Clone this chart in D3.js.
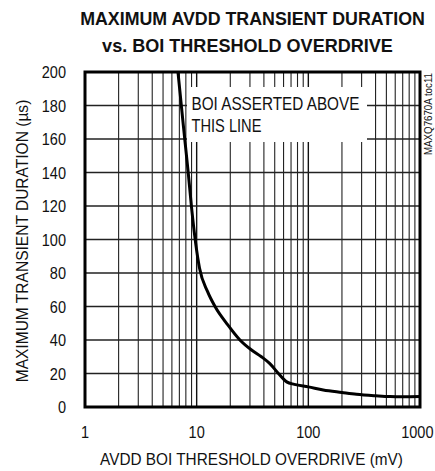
<!DOCTYPE html>
<html><head><meta charset="utf-8">
<script src="https://cdn.jsdelivr.net/npm/d3@7"></script>
<style>
html,body{margin:0;padding:0;background:#fff;}
svg{display:block;}
text{font-family:"Liberation Sans",Arial,sans-serif;fill:#111;}
</style></head>
<body>
<svg id="chart" width="435" height="471"></svg>
<script>
const overdrive = [6.8, 7.6, 8.4, 9.0, 10.6, 12.5, 14.6, 19, 24.4, 31, 38, 45, 54, 64, 75, 100, 136, 200, 270, 400, 537, 700, 1000];
const duration  = [200, 168, 140, 119, 83, 69, 60, 49, 40, 34, 30, 26, 20, 15, 13.5, 12, 10.2, 8.7, 7.6, 6.7, 6.2, 6.1, 6.2];
const xTicks = [1, 10, 100, 1000];
const yTicks = [0, 20, 40, 60, 80, 100, 120, 140, 160, 180, 200];
const titleLines = ["MAXIMUM AVDD TRANSIENT DURATION", "vs. BOI THRESHOLD OVERDRIVE"];
const xLabel = "AVDD BOI THRESHOLD OVERDRIVE (mV)";
const yLabel = "MAXIMUM TRANSIENT DURATION (\u00B5s)";
const noteLines = ["BOI ASSERTED ABOVE", "THIS LINE"];
const sideNote = "MAXQ7670A toc11";

const svg = d3.select("#chart");
const W = 435;
const L = 85, R = 420, T = 72, B = 407;
const x = d3.scaleLog().domain([1, 1000]).range([L, R]);
const y = d3.scaleLinear().domain([0, 200]).range([B, T]);

// place a text with horizontal squeeze via transform (narrow-face look)
// opts: {x, y, rot, anchor, size, weight, width (target) or factor}
function put(parent, str, o) {
  const t = parent.append("text")
    .attr("text-anchor", o.anchor || "start")
    .attr("font-size", o.size)
    .attr("font-weight", o.weight || "normal")
    .text(str);
  const w = t.node().getComputedTextLength();
  const f = o.width ? o.width / w : (o.factor || 1);
  let px = o.x;
  if (o.maxRight != null) {
    const half = (o.anchor === "middle" ? w * f / 2 : 0);
    px = Math.min(px, o.maxRight - half);
  }
  t.attr("transform", `translate(${px},${o.y})` + (o.rot ? ` rotate(${o.rot})` : "") + ` scale(${f},1)`);
  return t;
}

// minor vertical grid
const minor = [];
for (let d = 1; d < 1000; d *= 10) for (let k = 2; k <= 9; k++) minor.push(d * k);
const g = svg.append("g");
g.selectAll(".vmin").data(minor).enter().append("line")
  .attr("x1", d => x(d)).attr("x2", d => x(d)).attr("y1", T).attr("y2", B)
  .attr("stroke", "#222").attr("stroke-width", 1.1);
g.selectAll(".vmaj").data(xTicks).enter().append("line")
  .attr("x1", d => x(d)).attr("x2", d => x(d)).attr("y1", T).attr("y2", B)
  .attr("stroke", "#111").attr("stroke-width", 1.4);
g.selectAll(".h").data(yTicks).enter().append("line")
  .attr("x1", L).attr("x2", R).attr("y1", d => y(d)).attr("y2", d => y(d))
  .attr("stroke", "#222").attr("stroke-width", 1.3);

// annotation box
svg.append("rect").attr("x", 187).attr("y", 87).attr("width", 180).attr("height", 55).attr("fill", "#fff");
noteLines.forEach((s, i) => put(svg, s, {x: 191.5, y: i ? 131.5 : 109.5, size: 17.5, width: i ? 70 : 168}));

// curve
const line = d3.line().x((d, i) => x(overdrive[i])).y(d => y(d)).curve(d3.curveMonotoneX);
svg.append("path").datum(duration).attr("d", line)
  .attr("fill", "none").attr("stroke", "#000").attr("stroke-width", 3);

// border
svg.append("rect").attr("x", L).attr("y", T).attr("width", R - L).attr("height", B - T)
  .attr("fill", "none").attr("stroke", "#000").attr("stroke-width", 3);

// tick labels
const fmt = d3.format("d");
yTicks.forEach(d => put(svg, fmt(d), {x: 66, y: y(d) + 6, anchor: "end", size: 16.5, factor: 0.88}));
xTicks.forEach(d => put(svg, fmt(d), {x: x(d), y: 438, anchor: "middle", size: 16.5, factor: 0.88, maxRight: W - 1.5}));

// axis titles
put(svg, xLabel, {x: 251.5, y: 465, anchor: "middle", size: 16.5, width: 303});
put(svg, yLabel, {x: 28, y: 241, rot: -90, anchor: "middle", size: 16.5, width: 283});

// title
titleLines.forEach((s, i) => put(svg, s, {x: i ? 247.5 : 252.5, y: i ? 52 : 25, anchor: "middle",
  size: 18.5, weight: "bold", width: i ? 291 : 345}));

// side note
put(svg, sideNote, {x: 432, y: 114, rot: -90, anchor: "middle", size: 10, width: 82});
</script>
</body></html>
